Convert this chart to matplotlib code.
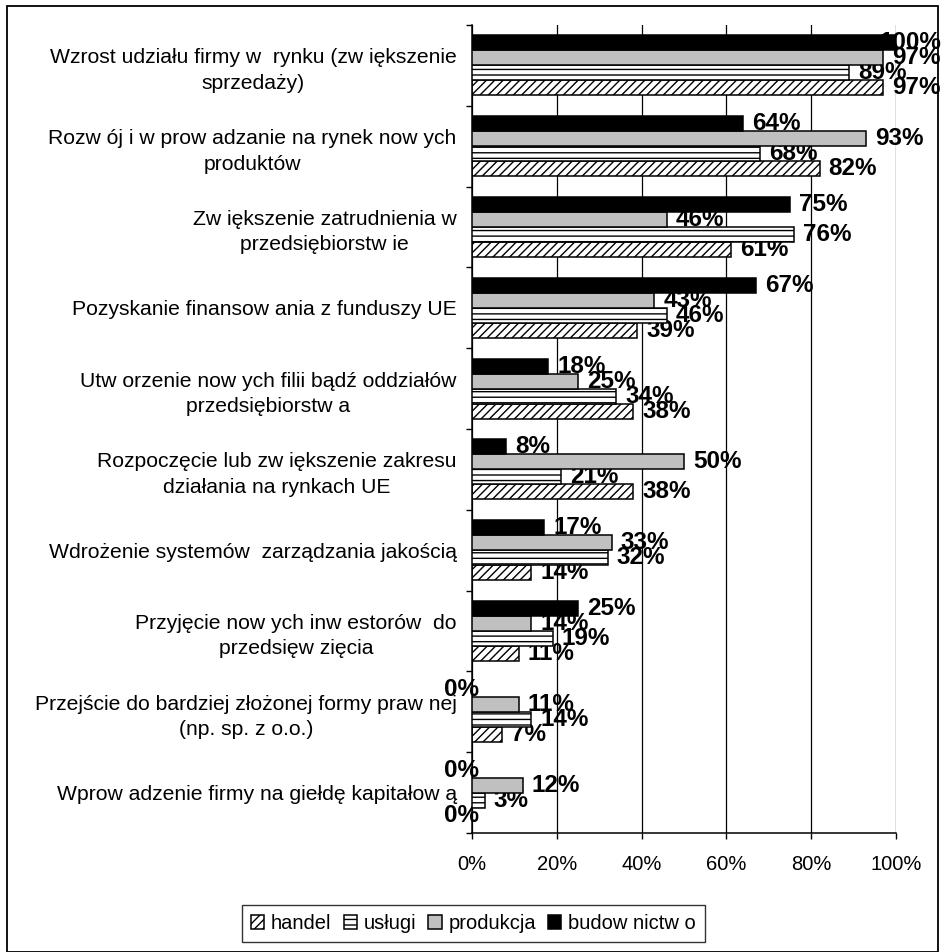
import matplotlib
matplotlib.use("Agg")
import matplotlib.pyplot as plt
import numpy as np
from matplotlib.patches import Rectangle
from matplotlib.ticker import FixedLocator, PercentFormatter

plt.rcParams["font.family"] = ["Liberation Sans", "DejaVu Sans"]
plt.rcParams["hatch.linewidth"] = 1.0

categories = [
    "Wzrost udziału firmy w  rynku (zw iększenie\nsprzedaży)",
    "Rozw ój i w prow adzanie na rynek now ych\nproduktów",
    "Zw iększenie zatrudnienia w\nprzedsiębiorstw ie",
    "Pozyskanie finansow ania z funduszy UE",
    "Utw orzenie now ych filii bądź oddziałów\nprzedsiębiorstw a",
    "Rozpoczęcie lub zw iększenie zakresu\ndziałania na rynkach UE",
    "Wdrożenie systemów  zarządzania jakością",
    "Przyjęcie now ych inw estorów  do\nprzedsięw zięcia",
    "Przejście do bardziej złożonej formy praw nej\n(np. sp. z o.o.)",
    "Wprow adzenie firmy na giełdę kapitałow ą",
]

handel = [97, 82, 61, 39, 38, 38, 14, 11, 7, 0]
uslugi = [89, 68, 76, 46, 34, 21, 32, 19, 14, 3]
produkcja = [97, 93, 46, 43, 25, 50, 33, 14, 11, 12]
budownictwo = [100, 64, 75, 67, 18, 8, 17, 25, 0, 0]

series_names = ["handel", "usługi", "produkcja", "budow nictw o"]
x_ticks = [0, 20, 40, 60, 80, 100]

series = [handel, uslugi, produkcja, budownictwo]
styles = [
    dict(facecolor="white", hatch="////"),
    dict(facecolor="white", hatch="---"),
    dict(facecolor="#C0C0C0", hatch=None),
    dict(facecolor="black", hatch=None),
]

W, H = 942, 952
fig = plt.figure(figsize=(W / 100, H / 100), dpi=100)
ax = fig.add_axes([472 / W, 1 - 833 / H, (896 - 472) / W, (833 - 25) / H])

n = len(categories)
y = np.arange(n)
bh = 0.186
# handel sits lowest in each group, budownictwo on top
offsets = [1.5 * bh, 0.5 * bh, -0.5 * bh, -1.5 * bh]

labels = []
for i, (vals, st, name, off) in enumerate(zip(series, styles, series_names, offsets)):
    z = 2 + i
    bars = ax.barh(y + off, vals, height=bh, edgecolor="black", linewidth=1.1,
                   label=name, zorder=z, **st)
    for rect, v in zip(bars, vals):
        cy = rect.get_y() + rect.get_height() / 2
        if v == 0:
            t = ax.annotate(f"{v}%", xy=(0, cy), xytext=(5, 0), textcoords="offset points",
                            ha="right", va="center", fontsize=17.5, fontweight="bold",
                            zorder=z + 0.5, annotation_clip=False)
        else:
            t = ax.annotate(f"{v}%", xy=(v, cy), xytext=(6.5, 0), textcoords="offset points",
                            ha="left", va="center", fontsize=17.5, fontweight="bold",
                            zorder=z + 0.5, annotation_clip=False)
        labels.append(t)

ax.set_xlim(0, 100)
ax.set_ylim(n - 0.5, -0.5)
ax.xaxis.set_major_locator(FixedLocator(x_ticks))
ax.xaxis.set_major_formatter(PercentFormatter(decimals=0))
ax.grid(axis="x", color="black", linewidth=0.9, zorder=1)
ax.set_axisbelow(True)

ax.set_yticks(y)
ax.set_yticklabels(categories, fontsize=15.2, multialignment="center", linespacing=1.42)
ax.set_yticks(np.arange(n + 1) - 0.5, minor=True)
ax.tick_params(axis="y", which="major", length=0, pad=11)
ax.tick_params(axis="y", which="minor", length=4.5, width=1, direction="out")
ax.tick_params(axis="x", length=4, width=1, direction="out", pad=12, labelsize=14.5)

for s in ["top", "right"]:
    ax.spines[s].set_visible(False)
for s in ["left", "bottom"]:
    ax.spines[s].set_linewidth(1.1)

leg = fig.legend(loc="center", bbox_to_anchor=(473.5 / W, 1 - 923.5 / H), ncol=4,
                 fontsize=14.5, frameon=True, fancybox=False, edgecolor="black",
                 handlelength=0.65, handleheight=0.65, handletextpad=0.35,
                 columnspacing=0.6, borderpad=0.45, borderaxespad=0)
leg.get_frame().set_linewidth(1.0)

# outer chart border
fig.patches.append(Rectangle((7 / W, 0.5 / H), (938 - 7) / W, (H - 6.5) / H,
                             transform=fig.transFigure, fill=False,
                             edgecolor="black", linewidth=1.3))

# keep data labels inside the chart on the right
fig.canvas.draw()
renderer = fig.canvas.get_renderer()
for t in labels:
    bb = t.get_window_extent(renderer)
    over = bb.x1 - (W - 1)
    if over > 0:
        ox, oy = t.xyann
        t.xyann = (ox - over * 72 / 100, oy)

fig.savefig("out.png", dpi=100, facecolor="white")
